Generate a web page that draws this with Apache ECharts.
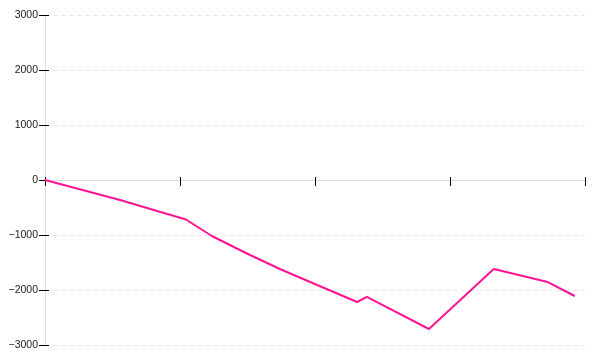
<!DOCTYPE html>
<html>
<head>
<meta charset="utf-8">
<script src="https://cdn.jsdelivr.net/npm/echarts@6/dist/echarts.min.js"></script>
<style>html,body{margin:0;padding:0;background:#fff}#c{width:600px;height:360px}</style>
</head>
<body>
<div id="c"></div>
<script>
var xValues = [0, 13.9, 26.1, 30.9, 37.2, 43.5, 49.1, 57.8, 59.6, 71.1, 83.1, 93.1, 98.1];
var yValues = [0, -364, -718, -1018, -1327, -1618, -1855, -2218, -2127, -2709, -1618, -1855, -2109];
var yTicks = [-3000, -2000, -1000, 0, 1000, 2000, 3000];

var chart = echarts.init(document.getElementById('c'), null, {renderer: 'canvas'});
var data = xValues.map(function (x, i) { return [x, yValues[i]]; });
var lbl = {fontFamily: 'Liberation Sans', fontSize: 10.5, color: '#222', margin: 7,
  formatter: function (v) { return String(v).replace('-', '\u2212'); }};
chart.setOption({
  animation: false,
  grid: {left: 45, right: 15, top: 15, bottom: 15, containLabel: false},
  xAxis: [{
    type: 'value', min: 0, max: 100, interval: 25, position: 'bottom',
    axisLine: {onZero: true, lineStyle: {color: '#ddd', width: 1}},
    axisTick: {show: true, length: 6, lineStyle: {color: '#000'}},
    axisLabel: {show: false}, splitLine: {show: false}
  }, {
    type: 'value', min: 0, max: 100, interval: 25, position: 'bottom',
    axisLine: {onZero: true, show: false},
    axisTick: {show: true, inside: true, length: 3, lineStyle: {color: '#000'}},
    axisLabel: {show: false}, splitLine: {show: false}
  }],
  yAxis: [{
    type: 'value', min: yTicks[0], max: yTicks[yTicks.length - 1], interval: 1000,
    axisLine: {show: true, onZero: false, lineStyle: {color: '#ddd'}},
    axisTick: {show: true, length: 6, lineStyle: {color: '#000'}},
    axisLabel: lbl,
    splitLine: {show: true, lineStyle: {color: '#e8e8e8', type: [4, 4]}}
  }, {
    type: 'value', min: yTicks[0], max: yTicks[yTicks.length - 1], interval: 1000, position: 'left',
    axisLine: {show: false, onZero: false},
    axisTick: {show: true, inside: true, length: 4, lineStyle: {color: '#000'}},
    axisLabel: {show: false}, splitLine: {show: false}
  }],
  series: [{
    type: 'line', data: data, symbol: 'none', xAxisIndex: 0, yAxisIndex: 0,
    lineStyle: {color: '#ff1493', width: 2}
  }]
});
</script>
</body>
</html>
